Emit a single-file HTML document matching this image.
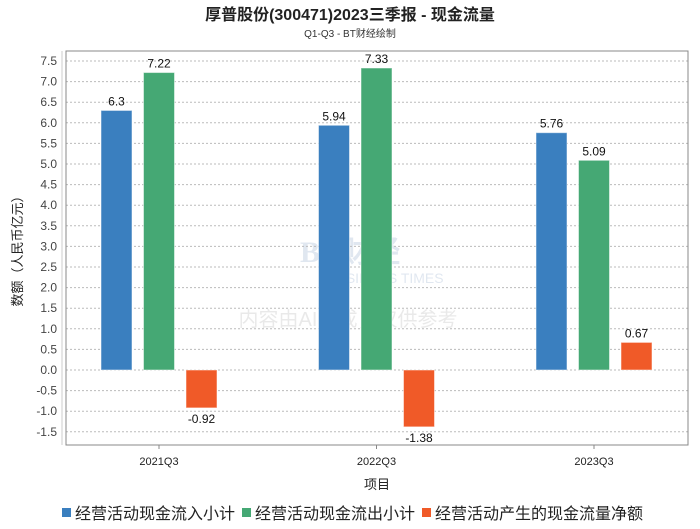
<!DOCTYPE html>
<html><head><meta charset="utf-8"><style>
body{margin:0;background:#fff;width:700px;height:524px;overflow:hidden;font-family:"Liberation Sans","Noto Sans CJK SC",sans-serif}
</style></head><body>
<svg id="c" width="700" height="524" xmlns="http://www.w3.org/2000/svg" font-family="Liberation Sans, Noto Sans CJK SC, sans-serif">
<text x="350" y="20" text-anchor="middle" font-size="16" font-weight="bold" fill="#222">厚普股份(300471)2023三季报 - 现金流量</text>
<text x="350" y="37" text-anchor="middle" font-size="10" fill="#333">Q1-Q3 - BT财经绘制</text>
<g opacity="0.18">
<text x="350" y="262" text-anchor="middle" font-size="30" font-weight="bold" fill="#5a7fb0" font-family="Liberation Serif, serif">BT财经</text>
<text x="385" y="283" text-anchor="middle" font-size="14" fill="#5a7fb0">BUSINESS TIMES</text>
<text x="348" y="326" text-anchor="middle" font-size="20" fill="#888">内容由AI生成，仅供参考</text>
</g>
<g id="grid"></g>
<rect x="66" y="51" width="622" height="394" fill="none" stroke="#888"/>
<line x1="62" y1="51" x2="62" y2="445" stroke="#ccc"/>
<g id="bars"></g>
<text x="22" y="248" text-anchor="middle" font-size="13" fill="#222" transform="rotate(-90 22 248)">数额（人民币亿元）</text>
<text x="377" y="489" text-anchor="middle" font-size="13" fill="#222">项目</text>
<g id="legend"></g>
</svg>
<script>
const categories=["2021Q3","2022Q3","2023Q3"];
const seriesNames=["经营活动现金流入小计","经营活动现金流出小计","经营活动产生的现金流量净额"];
const inflow=[6.3,5.94,5.76];
const outflow=[7.22,7.33,5.09];
const net=[-0.92,-1.38,0.67];
const yTicks=["-1.5","-1.0","-0.5","0.0","0.5","1.0","1.5","2.0","2.5","3.0","3.5","4.0","4.5","5.0","5.5","6.0","6.5","7.0","7.5"];
const colors=["#3a7fbf","#45a874","#f05a28"];
const NS="http://www.w3.org/2000/svg";
const y=v=>370-v*41.2;
const xc=i=>159+i*217.5;
function mk(tag,attrs,parent){const e=document.createElementNS(NS,tag);for(const k in attrs)e.setAttribute(k,attrs[k]);parent.appendChild(e);return e;}
const grid=document.getElementById('grid');
yTicks.forEach(t=>{const v=parseFloat(t);
 const l=mk('line',{x1:66,x2:688,y1:y(v),y2:y(v),stroke:'#bbb','stroke-dasharray':'2,2'},grid);
 
 
 const tx=mk('text',{x:57,y:y(v)+4,'text-anchor':'end','font-size':12,fill:'#444'},grid);tx.textContent=t;
 
 
});
const bars=document.getElementById('bars');
const series=[inflow,outflow,net];
categories.forEach((c,i)=>{
 const tk=mk('line',{x1:xc(i),x2:xc(i),y1:445,y2:449,stroke:'#888'},bars);
 
 
 const lb=mk('text',{x:xc(i),y:465,'text-anchor':'middle','font-size':11,fill:'#222'},bars);lb.textContent=c;
 
 
 series.forEach((s,j)=>{const v=s[i];const x0=xc(i)-58+j*42.5;
  const top=Math.min(y(v),y(0)),h=Math.abs(y(v)-y(0));
  const r=mk('rect',{x:x0,y:top,width:31,height:h,fill:colors[j],stroke:'#fff','stroke-opacity':0.5},bars);
  
  
  const t=mk('text',{x:x0+15.5,y:v>=0?y(v)-5:y(v)+15,'text-anchor':'middle','font-size':12,fill:'#111'},bars);t.textContent=v;
  
  
 });
});
const lg=document.getElementById('legend');
let lx=62;
seriesNames.forEach((n,j)=>{
 const r=mk('rect',{x:lx,y:508,width:9,height:9,fill:colors[j]},lg);
 
 
 const t=mk('text',{x:lx+13,y:519,'font-size':16,fill:'#222'},lg);t.textContent=n;
 
 
 lx+=13+n.length*16+7;
});
</script>
</body></html>
